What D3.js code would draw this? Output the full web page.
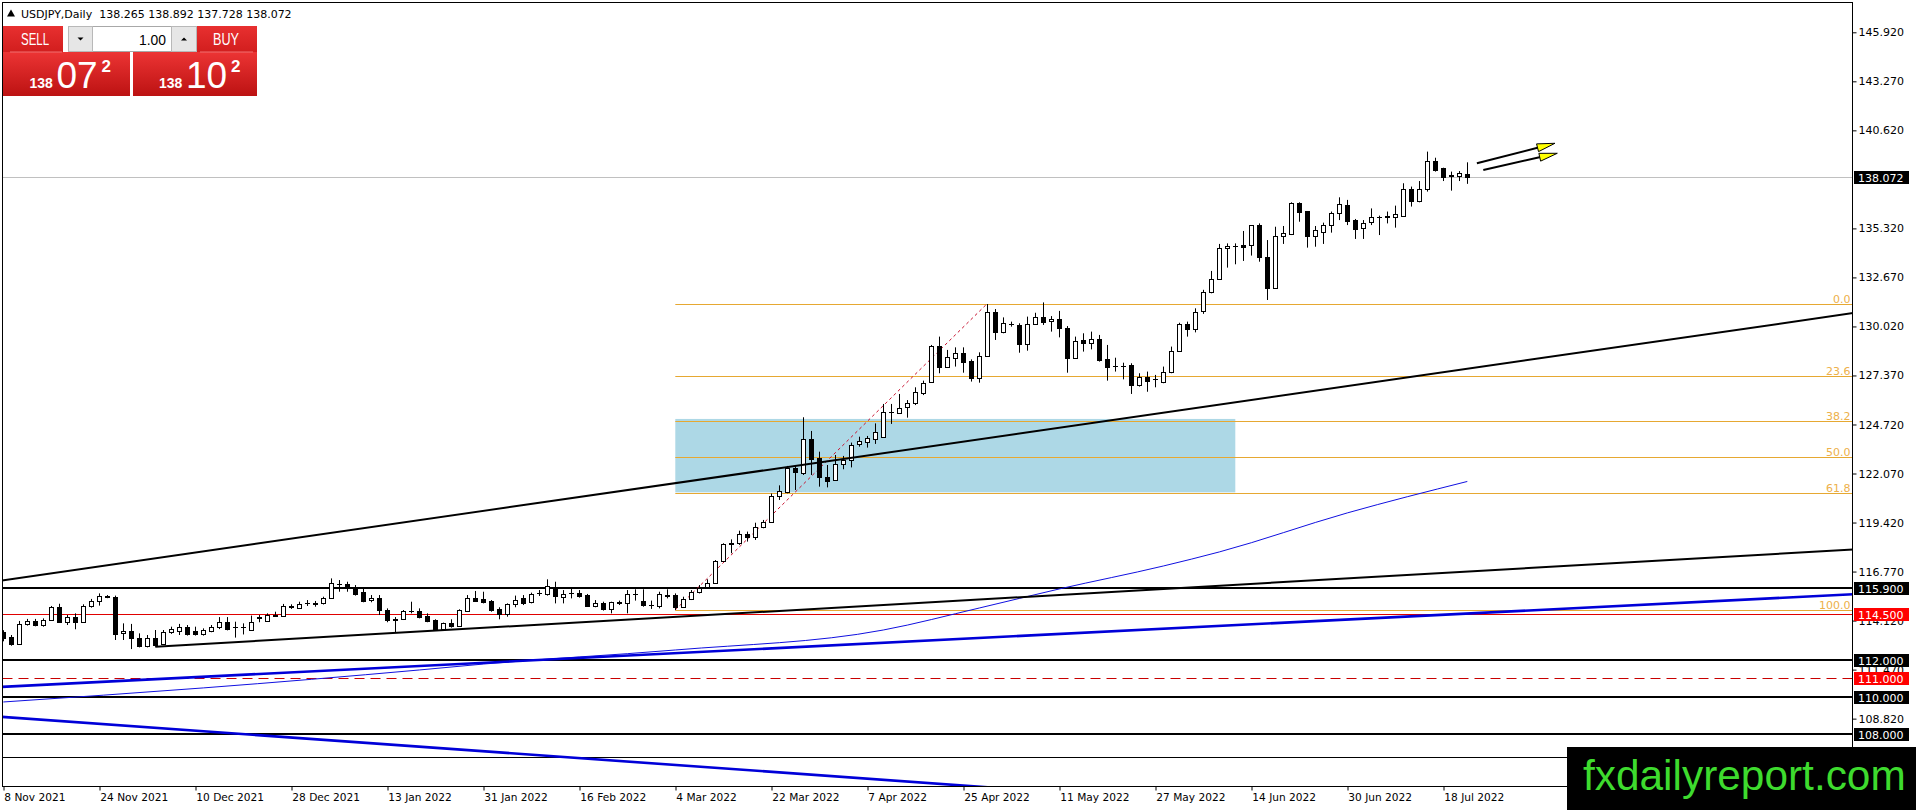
<!DOCTYPE html>
<html><head><meta charset="utf-8">
<script src="https://cdn.jsdelivr.net/npm/d3@7"></script>
<style>
html,body{margin:0;padding:0;background:#fff;overflow:hidden}
svg{display:block}
</style></head><body>
<svg id="c" width="1916" height="810" font-family="DejaVu Sans, sans-serif"></svg>
<script>
// ---------------- DATA ----------------
const symbolTitle = "USDJPY,Daily";
const lastOHLC = [138.265, 138.892, 137.728, 138.072];
const bidPrice = 138.072;
const askPrice = 138.102;
const lotSize = "1.00";

const opens = [
113.49,113.23,112.86,113.92,114.10,113.88,114.15,114.85,114.06,114.30,
114.03,114.91,115.18,115.45,115.41,113.43,113.56,113.16,112.76,113.20,
112.84,113.49,113.58,113.76,113.56,113.40,113.58,113.76,114.06,113.76,
113.76,113.61,114.28,114.12,114.42,114.39,114.87,114.82,115.05,115.04,
115.05,115.32,116.10,116.10,115.94,115.68,115.21,115.36,114.67,114.17,
114.19,114.62,114.64,114.37,114.15,113.65,113.97,113.85,114.66,115.36,
115.29,115.18,114.73,114.46,115.02,115.32,115.11,115.59,115.54,115.95,
115.38,115.63,115.63,115.50,114.91,115.05,114.73,115.14,115.05,115.54,
115.20,114.96,114.91,115.45,115.50,114.87,115.29,115.65,115.92,116.13,
117.34,118.28,118.30,118.80,118.62,119.16,119.47,120.86,121.09,122.35,
122.08,123.92,122.89,121.86,121.72,122.57,122.80,123.65,123.79,123.93,
124.06,125.38,125.36,125.65,125.86,126.44,127.00,128.96,127.85,128.33,
128.60,128.17,127.22,128.44,130.78,129.74,130.15,130.10,129.07,130.15,
130.51,130.33,130.40,129.92,128.30,129.29,129.11,129.32,128.24,127.88,
127.90,127.94,126.86,127.27,127.17,127.04,127.58,128.69,130.15,129.90,
130.85,131.86,132.57,134.24,134.38,134.42,134.42,135.50,133.79,132.12,
134.89,135.00,136.68,136.26,134.93,135.11,135.50,136.14,136.59,135.77,
135.32,135.65,135.95,136.01,135.95,136.01,137.45,136.82,137.43,138.96,
138.57,138.18,138.17,138.265];
const highs = [
113.60,113.34,114.10,114.21,114.21,114.24,114.91,115.03,114.42,114.51,
115.00,115.29,115.59,115.50,115.47,113.97,113.94,113.43,113.34,113.61,
113.61,113.79,113.94,113.88,113.79,113.70,113.88,114.31,114.31,114.06,
113.97,114.39,114.42,114.51,114.60,115.02,115.00,115.14,115.23,115.18,
115.41,116.40,116.31,116.22,116.04,115.86,115.50,115.50,114.78,114.31,
114.69,115.14,114.78,114.51,114.19,114.01,114.19,114.73,115.50,115.72,
115.68,115.23,114.84,115.05,115.47,115.50,115.63,115.77,116.35,116.22,
115.77,115.86,115.77,115.56,115.23,115.14,115.14,115.20,115.77,115.81,
115.81,115.20,115.68,115.81,115.59,115.41,115.77,116.04,116.35,117.39,
118.30,118.51,118.98,118.93,119.41,119.56,120.99,121.43,122.48,122.48,
125.11,124.37,123.25,122.53,123.07,123.02,123.74,124.06,124.10,124.78,
125.83,125.83,126.37,126.04,126.73,127.09,129.02,129.47,128.75,128.89,
128.89,128.24,128.62,131.23,130.96,130.51,130.28,130.19,130.55,130.76,
131.32,130.58,130.86,130.04,129.47,129.65,129.74,129.56,129.02,128.33,
128.06,128.03,127.49,127.58,127.40,127.85,128.93,130.22,130.28,131.00,
132.00,133.02,134.48,134.51,134.51,135.18,135.50,135.59,134.69,135.41,
135.45,136.73,136.73,136.26,135.45,135.63,136.23,137.00,136.86,135.83,
135.77,136.40,136.01,136.23,136.55,137.76,137.58,137.88,139.47,139.14,
138.60,138.39,138.42,138.892];
const lows = [
113.00,112.76,112.80,113.85,113.81,113.79,114.10,113.99,113.88,113.65,
113.99,114.82,114.93,115.33,113.07,113.07,112.58,112.67,112.67,112.71,
112.80,113.40,113.34,113.31,113.31,113.31,113.49,113.66,113.59,113.20,
113.37,113.56,114.03,114.06,114.33,114.33,114.75,114.75,114.91,114.87,
114.99,115.29,115.68,115.68,115.47,115.11,115.11,114.42,114.03,113.48,
114.15,114.51,114.24,114.03,113.61,113.56,113.74,113.79,114.60,115.14,
115.05,114.60,114.19,114.33,114.84,114.96,115.05,115.45,115.47,115.05,
115.05,115.32,115.36,114.87,114.84,114.66,114.51,114.96,114.51,115.20,
114.87,114.75,114.78,115.32,114.69,114.84,115.23,115.59,115.86,116.10,
117.30,117.76,118.21,118.39,118.48,119.11,119.41,120.64,121.00,121.18,
121.99,121.99,121.36,121.32,121.67,122.30,122.40,123.52,123.47,123.67,
124.03,124.75,125.36,125.09,125.77,126.31,126.98,127.49,127.81,127.85,
127.52,127.04,126.98,128.39,129.29,129.65,130.01,128.60,128.71,130.10,
130.10,129.74,129.43,127.52,128.26,128.66,128.78,128.12,127.09,127.58,
127.16,126.37,126.77,126.49,126.73,126.95,127.49,128.66,129.47,129.70,
130.70,131.81,132.53,133.20,133.38,133.56,133.85,133.52,131.45,132.08,
134.48,134.96,135.68,134.28,134.33,134.48,135.09,135.77,135.50,134.75,
134.75,135.50,134.96,135.59,135.36,135.99,136.50,136.73,137.31,138.39,
137.88,137.36,137.88,137.728];
const closes = [
113.16,112.86,113.94,114.10,113.88,114.15,114.85,114.06,114.30,114.03,
114.91,115.18,115.47,115.41,113.38,113.56,113.16,112.76,113.20,112.80,
113.52,113.65,113.76,113.40,113.40,113.61,113.79,114.06,113.67,113.78,
113.79,114.06,114.33,114.42,114.37,114.93,114.89,114.99,115.08,115.06,
115.36,116.13,116.08,115.86,115.54,115.18,115.36,114.67,114.15,114.19,
114.64,114.64,114.33,114.10,113.67,113.97,113.83,114.69,115.36,115.20,
115.14,114.69,114.46,115.02,115.23,115.09,115.56,115.61,115.99,115.45,
115.56,115.63,115.45,114.91,115.09,114.73,115.11,115.05,115.54,115.56,
114.96,114.97,115.56,115.48,114.84,115.29,115.68,115.86,116.13,117.34,
118.26,118.30,118.80,118.62,119.16,119.47,120.85,121.14,122.39,122.13,
123.92,122.85,121.86,121.68,122.57,122.80,123.61,123.83,123.97,124.30,
125.38,125.40,125.63,125.90,126.46,126.98,128.96,127.85,128.35,128.57,
128.12,127.22,128.44,130.78,129.74,130.19,130.13,129.07,130.13,130.51,
130.28,130.40,129.92,128.30,129.23,129.11,129.32,128.21,127.85,127.90,
127.88,126.86,127.27,127.09,127.18,127.58,128.69,130.15,129.86,130.80,
131.90,132.57,134.24,134.37,134.39,134.33,135.50,133.79,132.12,134.91,
135.05,136.68,136.23,134.93,135.23,135.50,136.14,136.62,135.72,135.27,
135.63,135.95,135.96,135.92,136.10,137.45,136.82,137.45,138.96,138.48,
138.12,138.17,138.30,138.072];

const dateLabels = ["8 Nov 2021","24 Nov 2021","10 Dec 2021","28 Dec 2021","13 Jan 2022",
  "31 Jan 2022","16 Feb 2022","4 Mar 2022","22 Mar 2022","7 Apr 2022","25 Apr 2022",
  "11 May 2022","27 May 2022","14 Jun 2022","30 Jun 2022","18 Jul 2022"];
const dateIdx = [0,12,24,36,48,60,72,84,96,108,120,132,144,156,168,180];

// visible price-scale ticks (137.970 and 106.170 are hidden behind the price tag / watermark)
const priceTicks = [145.92,143.27,140.62,135.32,132.67,130.02,127.37,124.72,
  122.07,119.42,116.77,114.12,111.47,108.82];

// slow moving average (bar index / value)
const maIdx = [0,25,52,60,84,110,122,132,145,152,168,183];
const maVal = [109.72,110.48,111.45,111.77,112.53,113.61,114.80,115.83,117.07,117.83,119.94,121.64];

const blackLevels = [115.9,112,110,108];
const redLevels = [114.5];
const dashedLevels = [111];
const thinLevels = [106.75];
const currentPrice = 138.072;

const fibLevels = [0,23.6,38.2,50,61.8,100];
const fibLowPt = [84,114.70];
const fibHighPt = [123,131.26];

const zoneBars = [84,154];
const zonePrices = [121.05,125.02];

const trendBlack = [[0,116.30],[183,127.73]];
const trendBlack2 = [[19,112.71],[183,116.77]];
const trendBlue = [[0,110.54],[183,114.50]];
const trendBlue2 = [[0,108.91],[100,105.82]];
const arrowLines = [[[184.2,138.84],[193.96,139.92]],[[185.0,138.48],[194.25,139.38]]];

const watermark = "fxdailyreport.com";

// ---------------- LAYOUT ----------------
const L = 2.5, T = 2.5, R = 1852.5, B = 786.5;
const svg = d3.select("#c");
const x = d3.scaleLinear().domain([0,180]).range([3.3, 3.3+8*180]);
const y = d3.scaleLinear().domain([106.17,145.92]).range([767.65,32.3]);
const snap = v => Math.round(v)+0.5;

svg.append("defs").append("clipPath").attr("id","plot")
  .append("rect").attr("x",L).attr("y",T).attr("width",R-L).attr("height",B-T);
const plot = svg.append("g").attr("clip-path","url(#plot)");

// zone box
plot.append("rect")
  .attr("x", x(zoneBars[0])).attr("width", x(zoneBars[1])-x(zoneBars[0]))
  .attr("y", y(zonePrices[1])).attr("height", y(zonePrices[0])-y(zonePrices[1]))
  .attr("fill","#ADD8E6");

// fib levels
const fibCol = "#E6A832";
const fibRange = fibHighPt[1]-fibLowPt[1];
fibLevels.forEach(l=>{
  const p = fibHighPt[1]-fibRange*l/100;
  const yy = snap(y(p));
  plot.append("line").attr("x1",x(fibLowPt[0])).attr("x2",R).attr("y1",yy).attr("y2",yy)
    .attr("stroke",fibCol).attr("stroke-width",1);
  plot.append("text").attr("x",R-2).attr("y",yy-2).attr("text-anchor","end")
    .attr("font-size",11).attr("fill","#EDB04A").text(l.toFixed(1));
});

// horizontal levels
const hline = (p, col, w, dash) => {
  const yy = w%2 ? snap(y(p)) : Math.round(y(p));
  const ln = plot.append("line").attr("x1",L).attr("x2",R).attr("y1",yy).attr("y2",yy)
    .attr("stroke",col).attr("stroke-width",w);
  if (dash) ln.attr("stroke-dasharray",dash);
};
hline(currentPrice,"#C0C0C0",1);
thinLevels.forEach(p=>hline(p,"#000",1));
blackLevels.forEach(p=>hline(p,"#000",2));
redLevels.forEach(p=>hline(p,"#E00000",1));
dashedLevels.forEach(p=>hline(p,"#C80000",1,"10,6"));

// trend lines (extended in data space)
const extLine = (pts, fromStart, col, w) => {
  const [a,b] = pts;
  const x1 = x(a[0]), y1 = y(a[1]), x2 = x(b[0]), y2 = y(b[1]);
  const k = (y2-y1)/(x2-x1);
  const xs = fromStart ? x1 : L-5, xe = R+5;
  plot.append("line").attr("x1",xs).attr("y1",y1+k*(xs-x1)).attr("x2",xe).attr("y2",y1+k*(xe-x1))
    .attr("stroke",col).attr("stroke-width",w);
};

// moving average
plot.append("path").datum(maIdx.map((d,i)=>[d,maVal[i]]))
  .attr("d", d3.line().x(d=>x(d[0])).y(d=>y(d[1])).curve(d3.curveMonotoneX))
  .attr("fill","none").attr("stroke","#1010E0").attr("stroke-width",1);

extLine(trendBlue,false,"#0000D8",2.6);
extLine(trendBlue2,false,"#0000D8",2.6);

// fib diagonal
plot.append("line").attr("x1",x(fibLowPt[0])).attr("y1",y(fibLowPt[1]))
  .attr("x2",x(fibHighPt[0])).attr("y2",y(fibHighPt[1]))
  .attr("stroke","#C8102E").attr("stroke-width",1).attr("stroke-dasharray","3,3");

// candles
const cg = plot.append("g");
opens.forEach((o,i)=>{
  const c = closes[i], h = highs[i], l = lows[i];
  const cx = snap(x(i));
  cg.append("line").attr("x1",cx).attr("x2",cx).attr("y1",y(h)).attr("y2",y(l))
    .attr("stroke","#000").attr("stroke-width",1);
  const yo = y(o), yc = y(c);
  const top = Math.round(Math.min(yo,yc))+0.5, bot = Math.round(Math.max(yo,yc))+0.5;
  if (bot-top < 1) {
    cg.append("line").attr("x1",cx-2.5).attr("x2",cx+2.5).attr("y1",top).attr("y2",top)
      .attr("stroke","#000").attr("stroke-width",1);
  } else {
    cg.append("rect").attr("x",cx-2).attr("width",4).attr("y",top).attr("height",bot-top)
      .attr("fill", c>=o ? "#fff" : "#000").attr("stroke","#000").attr("stroke-width",1);
  }
});

extLine(trendBlack,false,"#000",2);
extLine(trendBlack2,true,"#000",2);

// arrows
arrowLines.forEach(([s,t])=>{
  const sx=x(s[0]), sy=y(s[1]), tx=x(t[0]), ty=y(t[1]);
  const len=Math.hypot(tx-sx,ty-sy), ux=(tx-sx)/len, uy=(ty-sy)/len;
  const bx=tx-18*ux, by=ty-18*uy, nx=-uy, ny=ux;
  plot.append("line").attr("x1",sx).attr("y1",sy).attr("x2",bx+2*ux).attr("y2",by+2*uy)
    .attr("stroke","#000").attr("stroke-width",2);
  plot.append("path").attr("d",`M${tx},${ty}L${bx+4*nx},${by+4*ny}L${bx-4*nx},${by-4*ny}Z`)
    .attr("fill","#FFFF00").attr("stroke","#000").attr("stroke-width",1);
});

// frame
svg.append("rect").attr("x",L).attr("y",T).attr("width",R-L).attr("height",B-T)
  .attr("fill","none").attr("stroke","#000").attr("stroke-width",1);

// right price axis
const yAxis = svg.append("g").attr("transform",`translate(${R},0)`)
  .call(d3.axisRight(y).tickValues(priceTicks).tickFormat(d3.format(".3f")).tickSize(4).tickPadding(2));
yAxis.select(".domain").remove();
yAxis.attr("font-family","DejaVu Sans").attr("font-size",11);
yAxis.selectAll("text").attr("fill","#000");
yAxis.selectAll("line").attr("stroke","#000");

// highlighted price labels
const tag = (p, bg) => {
  const yy = y(p);
  svg.append("rect").attr("x",R+1.5).attr("y",Math.round(yy)-6).attr("width",55).attr("height",13).attr("fill",bg);
  svg.append("text").attr("x",R+5.5).attr("y",Math.round(yy)+4.5).attr("font-size",11)
    .attr("fill","#fff").text(d3.format(".3f")(p));
};
blackLevels.forEach(p=>tag(p,"#000"));
redLevels.forEach(p=>tag(p,"#FF0000"));
dashedLevels.forEach(p=>tag(p,"#FF0000"));
tag(currentPrice,"#000");

// bottom date axis
const xAxis = svg.append("g").attr("transform",`translate(0,${B})`)
  .call(d3.axisBottom(x).tickValues(dateIdx).tickFormat((d,i)=>dateLabels[i]).tickSize(4).tickPadding(3));
xAxis.select(".domain").remove();
xAxis.attr("font-family","DejaVu Sans").attr("font-size",10.6);
xAxis.selectAll(".tick line").attr("transform","translate(0.2,0)").attr("stroke","#000");
xAxis.selectAll("text").attr("text-anchor","start").attr("x",0.5).attr("fill","#000");

// title
svg.append("path").attr("d","M7,16.5L11,9.5L15,16.5Z").attr("fill","#000");
svg.append("text").attr("x",21).attr("y",17.5).attr("font-size",11).attr("fill","#000")
  .attr("xml:space","preserve")
  .text(symbolTitle+"  "+lastOHLC.map(v=>v.toFixed(3)).join(" "));

// trading panel
const defs = svg.select("defs");
const gr = defs.append("linearGradient").attr("id","red").attr("x1",0).attr("y1",0).attr("x2",0).attr("y2",1);
gr.append("stop").attr("offset","0%").attr("stop-color","#EC3434");
gr.append("stop").attr("offset","100%").attr("stop-color","#BC1212");
const gr2 = defs.append("linearGradient").attr("id","red2").attr("x1",0).attr("y1",0).attr("x2",0).attr("y2",1);
gr2.append("stop").attr("offset","0%").attr("stop-color","#E83030");
gr2.append("stop").attr("offset","100%").attr("stop-color","#D21E1E");
const pnl = svg.append("g").attr("font-family","Liberation Sans, Arial, sans-serif");
pnl.append("rect").attr("x",3).attr("y",26).attr("width",60).attr("height",26).attr("fill","url(#red2)");
pnl.append("rect").attr("x",197).attr("y",26).attr("width",60).attr("height",26).attr("fill","url(#red2)");
pnl.append("rect").attr("x",3).attr("y",52).attr("width",127).attr("height",44).attr("fill","url(#red)");
pnl.append("rect").attr("x",133).attr("y",52).attr("width",124).attr("height",44).attr("fill","url(#red)");
pnl.append("line").attr("x1",10).attr("x2",62).attr("y1",52).attr("y2",52).attr("stroke","#F07070");
pnl.append("line").attr("x1",200).attr("x2",253).attr("y1",52).attr("y2",52).attr("stroke","#F07070");
// spinner
pnl.append("rect").attr("x",68.5).attr("y",26.5).attr("width",128).attr("height",25).attr("fill","#fff").attr("stroke","#A8A8A8");
pnl.append("rect").attr("x",68.5).attr("y",26.5).attr("width",24).attr("height",25).attr("fill","#E6E6E6").attr("stroke","#B8B8B8");
pnl.append("rect").attr("x",171.5).attr("y",26.5).attr("width",25).attr("height",25).attr("fill","#E6E6E6").attr("stroke","#B8B8B8");
pnl.append("path").attr("d","M77.5,37.5h6l-3,3z").attr("fill","#000");
pnl.append("path").attr("d","M181,40.5h6l-3,-3z").attr("fill","#000");
pnl.append("text").attr("x",166).attr("y",45).attr("text-anchor","end").attr("font-size",15)
  .attr("fill","#000").attr("textLength",27).attr("lengthAdjust","spacingAndGlyphs").text(lotSize);
pnl.append("text").attr("x",21).attr("y",45).attr("font-size",16)
  .attr("fill","#fff").attr("textLength",28).attr("lengthAdjust","spacingAndGlyphs").text("SELL");
pnl.append("text").attr("x",213).attr("y",45).attr("font-size",16)
  .attr("fill","#fff").attr("textLength",26).attr("lengthAdjust","spacingAndGlyphs").text("BUY");
const priceParts = p => { const s = p.toFixed(3); return [s.slice(0,3), s.slice(4,6), s.slice(6)]; };
const drawPrice = (p, x0) => {
  const [a,b,c] = priceParts(p);
  pnl.append("text").attr("x",x0).attr("y",87.5).attr("font-size",14).attr("font-weight","bold")
    .attr("fill","#fff").text(a);
  pnl.append("text").attr("x",x0+27).attr("y",87.5).attr("font-size",37)
    .attr("fill","#fff").text(b);
  pnl.append("text").attr("x",x0+72).attr("y",72).attr("font-size",17).attr("font-weight","bold")
    .attr("fill","#fff").text(c);
};
drawPrice(bidPrice, 29.5);
drawPrice(askPrice, 159);

// watermark
svg.append("rect").attr("x",1567).attr("y",747).attr("width",349).attr("height",63).attr("fill","#000");
svg.append("text").attr("x",1583).attr("y",790).attr("font-size",42.4).attr("font-family","Liberation Sans, Arial, sans-serif")
  .attr("fill","#3EDB2E").text(watermark);
</script>
</body></html>
